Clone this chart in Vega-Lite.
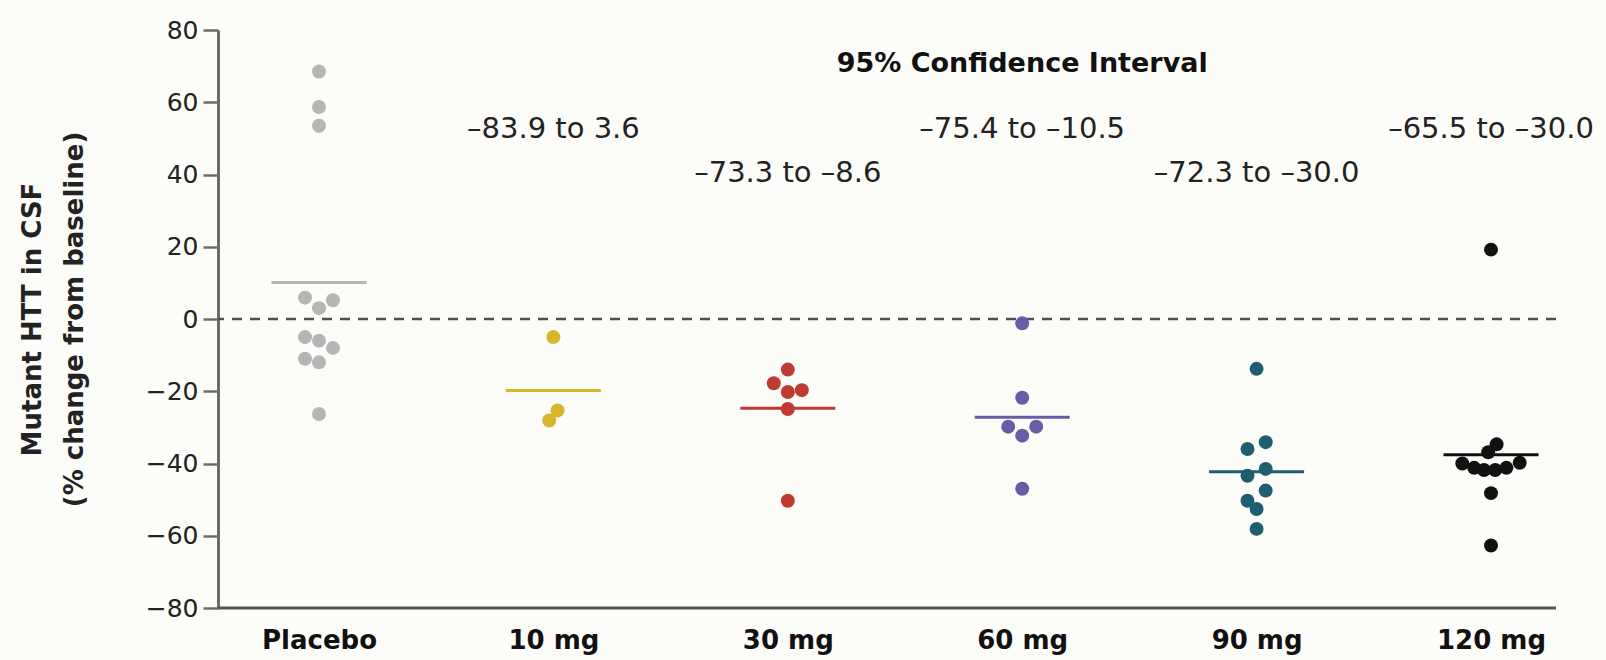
{
  "$schema": "https://vega.github.io/schema/vega-lite/v6.json",
  "width": 1338,
  "height": 578,
  "autosize": {"type": "none"},
  "padding": {"left": 218, "top": 30, "right": 50, "bottom": 52},
  "background": "#fcfcf8",
  "config": {"view": {"stroke": null}, "font": "DejaVu Sans"},
  "datasets": {
    "dots": [
      {"g": "Placebo", "v": 68.5, "c": 0},
      {"g": "Placebo", "v": 58.7, "c": 0},
      {"g": "Placebo", "v": 53.5, "c": 0},
      {"g": "Placebo", "v": 5.9, "c": -1},
      {"g": "Placebo", "v": 5.2, "c": 1},
      {"g": "Placebo", "v": 3.0, "c": 0},
      {"g": "Placebo", "v": -5.0, "c": -1},
      {"g": "Placebo", "v": -6.0, "c": 0},
      {"g": "Placebo", "v": -8.0, "c": 1},
      {"g": "Placebo", "v": -11.0, "c": -1},
      {"g": "Placebo", "v": -12.0, "c": 0},
      {"g": "Placebo", "v": -26.3, "c": 0},
      {"g": "10 mg", "v": -5.0, "c": 0},
      {"g": "10 mg", "v": -25.3, "c": 0.3},
      {"g": "10 mg", "v": -28.1, "c": -0.3},
      {"g": "30 mg", "v": -14.0, "c": 0},
      {"g": "30 mg", "v": -17.8, "c": -1},
      {"g": "30 mg", "v": -20.2, "c": 0},
      {"g": "30 mg", "v": -19.7, "c": 1},
      {"g": "30 mg", "v": -24.9, "c": 0},
      {"g": "30 mg", "v": -50.3, "c": 0},
      {"g": "60 mg", "v": -1.2, "c": 0},
      {"g": "60 mg", "v": -21.8, "c": 0},
      {"g": "60 mg", "v": -29.8, "c": -1},
      {"g": "60 mg", "v": -29.8, "c": 1},
      {"g": "60 mg", "v": -32.3, "c": 0},
      {"g": "60 mg", "v": -47.0, "c": 0},
      {"g": "90 mg", "v": -13.8, "c": 0},
      {"g": "90 mg", "v": -36.0, "c": -0.65},
      {"g": "90 mg", "v": -34.1, "c": 0.65},
      {"g": "90 mg", "v": -41.5, "c": 0.65},
      {"g": "90 mg", "v": -43.4, "c": -0.65},
      {"g": "90 mg", "v": -47.5, "c": 0.65},
      {"g": "90 mg", "v": -50.3, "c": -0.65},
      {"g": "90 mg", "v": -52.6, "c": 0},
      {"g": "90 mg", "v": -58.1, "c": 0},
      {"g": "120 mg", "v": 19.2, "c": 0},
      {"g": "120 mg", "v": -34.7, "c": 0.4},
      {"g": "120 mg", "v": -36.9, "c": -0.2},
      {"g": "120 mg", "v": -40.0, "c": -2.05},
      {"g": "120 mg", "v": -41.2, "c": -1.2},
      {"g": "120 mg", "v": -41.8, "c": -0.5},
      {"g": "120 mg", "v": -41.8, "c": 0.3},
      {"g": "120 mg", "v": -41.2, "c": 1.1},
      {"g": "120 mg", "v": -39.8, "c": 2.05},
      {"g": "120 mg", "v": -48.2, "c": 0},
      {"g": "120 mg", "v": -62.7, "c": 0}
    ],
    "means": [
      {"g": "Placebo", "v": 10.1},
      {"g": "10 mg", "v": -19.8},
      {"g": "30 mg", "v": -24.7},
      {"g": "60 mg", "v": -27.2},
      {"g": "90 mg", "v": -42.3},
      {"g": "120 mg", "v": -37.6}
    ],
    "notes": [
      {"g": "10 mg", "t": "–83.9 to 3.6", "v": 52.6},
      {"g": "30 mg", "t": "–73.3 to –8.6", "v": 40.4},
      {"g": "60 mg", "t": "–75.4 to –10.5", "v": 52.6},
      {"g": "90 mg", "t": "–72.3 to –30.0", "v": 40.4},
      {"g": "120 mg", "t": "–65.5 to –30.0", "v": 52.6}
    ],
    "header": [
      {"g": "60 mg", "t": "95% Confidence Interval", "v": 70.6}
    ],
    "baseline": [
      {"v": -80}
    ]
  },
  "layer": [
    {
      "data": {"values": [{}]},
      "mark": {"type": "rule", "color": "#505050", "strokeWidth": 2.5, "strokeDash": [10, 8]},
      "encoding": {"y": {"datum": 0, "type": "quantitative"}}
    },
    {
      "data": {"name": "baseline"},
      "mark": {"type": "rule", "color": "#555555", "strokeWidth": 3},
      "encoding": {"y": {"field": "v", "type": "quantitative"}}
    },
    {
      "data": {"name": "means"},
      "mark": {"type": "tick", "size": 95, "thickness": 3, "opacity": 1},
      "encoding": {
        "x": {
          "field": "g", "type": "nominal",
          "scale": {"type": "point", "domain": ["Placebo", "10 mg", "30 mg", "60 mg", "90 mg", "120 mg"], "range": [101, 1273], "padding": 0},
          "axis": {
            "title": null, "domain": false, "ticks": false, "tickSize": 0,
            "labelPadding": 19, "labelFontSize": 26, "labelFontWeight": "bold", "labelColor": "#111111",
            "labelFont": "DejaVu Sans", "grid": false, "labelAngle": 0
          }
        },
        "y": {
          "field": "v", "type": "quantitative",
          "scale": {"domain": [-80, 80], "nice": false, "zero": false},
          "axis": {
            "values": [-80, -60, -40, -20, 0, 20, 40, 60, 80],
            "domainColor": "#6b6b6b", "domainWidth": 3, "tickColor": "#6b6b6b", "tickWidth": 2.5, "tickSize": 15,
            "labelPadding": 5, "labelFontSize": 25, "labelColor": "#222222", "labelFont": "DejaVu Sans", "grid": false,
            "title": ["Mutant HTT in CSF", "(% change from baseline)"],
            "titleFont": "DejaVu Sans", "titleFontSize": 26, "titleFontWeight": "bold", "titleColor": "#222222",
            "titleLineHeight": 42, "titleX": -173, "titleY": 289, "titleAngle": -90, "titleBaseline": "bottom", "titleAlign": "center"
          }
        },
        "color": {
          "field": "g", "type": "nominal",
          "scale": {"domain": ["Placebo", "10 mg", "30 mg", "60 mg", "90 mg", "120 mg"], "range": ["#b5b5b5", "#d6b62c", "#bf3a30", "#6a5ba6", "#1f5e70", "#111111"]},
          "legend": null
        }
      }
    },
    {
      "data": {"name": "dots"},
      "mark": {"type": "circle", "size": 195, "opacity": 1},
      "encoding": {
        "x": {"field": "g", "type": "nominal"},
        "xOffset": {"field": "c", "type": "quantitative", "scale": {"domain": [-1, 1], "range": [-14, 14], "zero": false, "nice": false}},
        "y": {"field": "v", "type": "quantitative"},
        "color": {"field": "g", "type": "nominal"}
      }
    },
    {
      "data": {"name": "notes"},
      "mark": {"type": "text", "fontSize": 29, "color": "#222222", "font": "DejaVu Sans", "baseline": "middle"},
      "encoding": {
        "x": {"field": "g", "type": "nominal"},
        "y": {"field": "v", "type": "quantitative"},
        "text": {"field": "t"}
      }
    },
    {
      "data": {"name": "header"},
      "mark": {"type": "text", "fontSize": 27, "fontWeight": "bold", "color": "#111111", "font": "DejaVu Sans", "baseline": "middle"},
      "encoding": {
        "x": {"field": "g", "type": "nominal"},
        "y": {"field": "v", "type": "quantitative"},
        "text": {"field": "t"}
      }
    }
  ]
}
